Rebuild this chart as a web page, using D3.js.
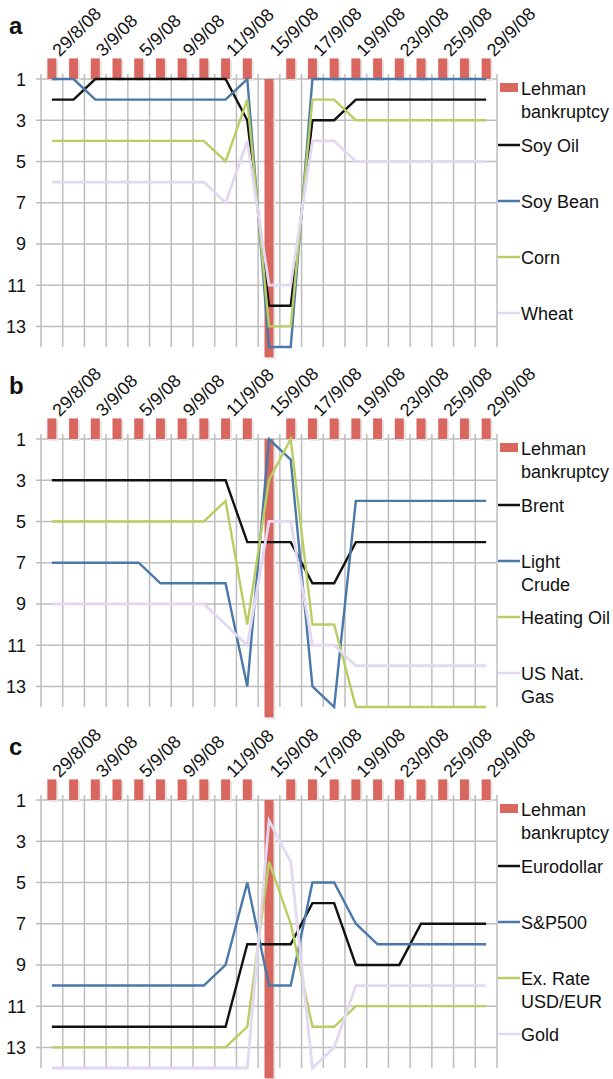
<!DOCTYPE html>
<html>
<head>
<meta charset="utf-8">
<script src="https://cdn.jsdelivr.net/npm/d3@7"></script>
<style>
  body { margin: 0; background: #fff; }
  svg text { font-family: "Liberation Sans", Arial, sans-serif; fill: #111; }
</style>
</head>
<body>
<div id="chart"></div>
<script>
// trading days shown on the x axis
var dates = ["29/8/08", "2/9/08", "3/9/08", "4/9/08", "5/9/08", "8/9/08", "9/9/08", "10/9/08",
  "11/9/08", "12/9/08", "15/9/08", "16/9/08", "17/9/08", "18/9/08", "19/9/08", "22/9/08",
  "23/9/08", "24/9/08", "25/9/08", "26/9/08", "29/9/08"];
var yTicks = [1, 3, 5, 7, 9, 11, 13];
var lehmanDate = "15/9/08";

// ranks, panel a
var soyOil   = [2, 2, 1, 1, 1, 1, 1, 1, 1, 3, 12, 12, 3, 3, 2, 2, 2, 2, 2, 2, 2];
var soyBean  = [1, 1, 2, 2, 2, 2, 2, 2, 2, 1, 14, 14, 1, 1, 1, 1, 1, 1, 1, 1, 1];
var corn     = [4, 4, 4, 4, 4, 4, 4, 4, 5, 2, 13, 13, 2, 2, 3, 3, 3, 3, 3, 3, 3];
var wheat    = [6, 6, 6, 6, 6, 6, 6, 6, 7, 4, 11, 11, 4, 4, 5, 5, 5, 5, 5, 5, 5];
// ranks, panel b
var brent      = [3, 3, 3, 3, 3, 3, 3, 3, 3, 6, 6, 6, 8, 8, 6, 6, 6, 6, 6, 6, 6];
var lightCrude = [7, 7, 7, 7, 7, 8, 8, 8, 8, 13, 1, 2, 13, 14, 4, 4, 4, 4, 4, 4, 4];
var heatingOil = [5, 5, 5, 5, 5, 5, 5, 5, 4, 10, 3, 1, 10, 10, 14, 14, 14, 14, 14, 14, 14];
var natGas     = [9, 9, 9, 9, 9, 9, 9, 9, 10, 11, 5, 5, 11, 11, 12, 12, 12, 12, 12, 12, 12];
// ranks, panel c
var eurodollar = [12, 12, 12, 12, 12, 12, 12, 12, 12, 8, 8, 8, 6, 6, 9, 9, 9, 7, 7, 7, 7];
var sp500      = [10, 10, 10, 10, 10, 10, 10, 10, 9, 5, 10, 10, 5, 5, 7, 8, 8, 8, 8, 8, 8];
var exRate     = [13, 13, 13, 13, 13, 13, 13, 13, 13, 12, 4, 7, 12, 12, 11, 11, 11, 11, 11, 11, 11];
var gold       = [14, 14, 14, 14, 14, 14, 14, 14, 14, 14, 2, 4, 14, 13, 10, 10, 10, 10, 10, 10, 10];

var colors = ["#111111", "#4a78a8", "#b9ce62", "#e2d8f2"];
var red = "#d9675f";

var panels = [
  { letter: "a", top: 0, names: [["Soy Oil"], ["Soy Bean"], ["Corn"], ["Wheat"]],
    series: [soyOil, soyBean, corn, wheat] },
  { letter: "b", top: 360, names: [["Brent"], ["Light", "Crude"], ["Heating Oil"], ["US Nat.", "Gas"]],
    series: [brent, lightCrude, heatingOil, natGas] },
  { letter: "c", top: 721, names: [["Eurodollar"], ["S&P500"], ["Ex. Rate", "USD/EUR"], ["Gold"]],
    series: [eurodollar, sp500, exRate, gold] }
];

var width = 613, height = 1079;
var svg = d3.select("#chart").append("svg")
  .attr("width", width)
  .attr("height", height);

var x = d3.scaleBand().domain(dates).range([41, 497]).padding(0);
var bw = x.bandwidth();
var barW = 9;

panels.forEach(function (p) {
  var g = svg.append("g").attr("transform", "translate(0," + p.top + ")");
  var y = d3.scaleLinear().domain([0, 14]).range([58.4, 347]);

  // grid
  var grid = g.append("g").attr("stroke", "#bdbdbd").attr("stroke-width", 1.5);
  grid.selectAll("line.h").data(yTicks).enter().append("line")
    .attr("x1", 36).attr("x2", 497)
    .attr("y1", function (d) { return y(d); })
    .attr("y2", function (d) { return y(d); });
  var bounds = dates.map(function (d) { return x(d); }).concat([x.range()[1]]);
  grid.selectAll("line.v").data(bounds).enter().append("line")
    .attr("x1", function (d) { return d; }).attr("x2", function (d) { return d; })
    .attr("y1", y(1) - 5).attr("y2", y(14));

  // y labels
  g.selectAll("text.yl").data(yTicks).enter().append("text")
    .attr("x", 26).attr("y", function (d) { return y(d) + 6.5; })
    .attr("text-anchor", "end")
    .style("font-size", "18px")
    .text(function (d) { return d; });

  // date labels (every second day)
  g.selectAll("text.xl").data(dates.filter(function (d, i) { return i % 2 === 0; }))
    .enter().append("text")
    .attr("transform", function (d) {
      return "translate(" + (x(d) + bw / 2 + 8) + "," + (y(0) - 1) + ") rotate(-45)";
    })
    .style("font-size", "18px")
    .text(function (d) { return d; });

  // panel letter
  g.append("text").attr("x", 9).attr("y", 34)
    .style("font-size", "24px").style("font-weight", "bold")
    .text(p.letter);

  // Lehman bankruptcy bars: small marker above axis, tall bar on the day
  var barY0 = function (d) { return d === lehmanDate ? y(1) : y(0); };
  var barY1 = function (d) { return d === lehmanDate ? y(14.5) : y(1); };
  g.selectAll("rect.shadow").data(dates).enter().append("rect")
    .attr("x", function (d) { return x(d) + bw / 2 - barW / 2 + 2; })
    .attr("y", function (d) { return barY0(d) + 2; })
    .attr("width", barW)
    .attr("height", function (d) { return barY1(d) - barY0(d); })
    .attr("fill", "#e6e6e6");
  g.selectAll("rect.bar").data(dates).enter().append("rect")
    .attr("x", function (d) { return x(d) + bw / 2 - barW / 2; })
    .attr("y", barY0)
    .attr("width", barW)
    .attr("height", function (d) { return barY1(d) - barY0(d); })
    .attr("fill", red);

  // rank lines
  var line = d3.line()
    .x(function (d, i) { return x(dates[i]) + bw / 2; })
    .y(function (d) { return y(d); });
  p.series.forEach(function (s, k) {
    g.append("path")
      .attr("d", line(s))
      .attr("fill", "none")
      .attr("stroke", colors[k])
      .attr("stroke-width", k === 3 ? 2.8 : 2.4)
      .attr("stroke-linejoin", "miter");
  });

  // legend
  var base = y(1);
  g.append("rect").attr("x", 500).attr("y", base + 4).attr("width", 18).attr("height", 9).attr("fill", red);
  g.append("text").attr("x", 521).attr("y", base + 16).style("font-size", "18px").text("Lehman");
  g.append("text").attr("x", 521).attr("y", base + 39).style("font-size", "18px").text("bankruptcy");
  p.names.forEach(function (lines, k) {
    var ly = base + 66 + k * 56;
    g.append("line").attr("x1", 498).attr("x2", 520).attr("y1", ly).attr("y2", ly)
      .attr("stroke", colors[k]).attr("stroke-width", 2.5);
    lines.forEach(function (t, j) {
      g.append("text").attr("x", 521).attr("y", ly + 6.5 + j * 23)
        .style("font-size", "18px").text(t);
    });
  });
});
</script>
</body>
</html>
